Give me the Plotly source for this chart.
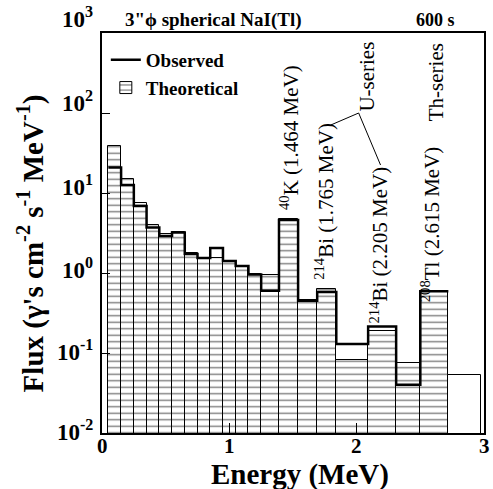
import plotly.graph_objects as go

# Energy bin edges (MeV)
edges = [0.05, 0.15, 0.25, 0.35, 0.45, 0.55, 0.65, 0.75, 0.85, 0.95, 1.05,
         1.15, 1.25, 1.39, 1.54, 1.69, 1.84, 2.09, 2.31, 2.50, 2.72, 2.98]
# Theoretical flux per bin (last bin drawn without hatching)
theoretical = [39, 14.8, 7.6, 4.0, 3.1, 3.3, 1.76, 1.56, 1.55, 1.41, 1.22,
               0.97, 0.94, 4.7, 0.46, 0.64, 0.082, 0.19, 0.074, 0.60, 0.053]
# Observed flux per bin
observed = [20.8, 12.6, 6.9, 3.7, 2.9, 3.2, 1.73, 1.54, 2.05, 1.41, 1.22,
            0.96, 0.60, 4.6, 0.45, 0.58, 0.13, 0.215, 0.040, 0.59]

y_tickvals = [0.01, 0.1, 1, 10, 100, 1000]
y_ticktext = ["10<sup>-2</sup>", "10<sup>-1</sup>", "10<sup>0</sup>",
              "10<sup>1</sup>", "10<sup>2</sup>", "10<sup>3</sup>"]
x_tickvals = [0, 1, 2, 3]
x_ticktext = ["0", "1", "2", "3"]

SERIF = "Liberation Serif"

centers = [(edges[i] + edges[i + 1]) / 2 for i in range(len(theoretical))]
widths = [edges[i + 1] - edges[i] for i in range(len(theoretical))]
shapes_pat = ["-"] * (len(theoretical) - 1) + [""]

obs_x, obs_y = [], []
for i, v in enumerate(observed):
    obs_x += [edges[i], edges[i + 1]]
    obs_y += [v, v]

fig = go.Figure()
fig.add_trace(go.Bar(
    x=centers, y=theoretical, width=widths, name="Theoretical",
    marker=dict(color="white", line=dict(color="black", width=1),
                pattern=dict(shape=shapes_pat, fgcolor="black", bgcolor="white",
                             size=6.5, solidity=0.22)),
    legendrank=2,
))
fig.add_trace(go.Scatter(
    x=obs_x, y=obs_y, mode="lines", name="Observed",
    line=dict(color="black", width=2.5), legendrank=1,
))

# layout in pixels: plot area x 102..486, y 33..433
L, R, T, B = 102, 7, 33, 56
W, H = 493, 489
pw, ph = W - L - R, H - T - B


def px(x):
    return (x - L) / pw


def py(y):
    return (H - B - y) / ph


def bold(size):
    return dict(family=SERIF, size=size, color="black", weight="bold")


ann_font = dict(family=SERIF, size=21, color="black")
annotations = [
    dict(text="<sup>40</sup>K (1.464 MeV)", x=px(290), y=py(138)),
    dict(text="<sup>214</sup>Bi (1.765 MeV)", x=px(325), y=py(201)),
    dict(text="<sup>214</sup>Bi (2.205 MeV)", x=px(380), y=py(245)),
    dict(text="<sup>208</sup>Tl (2.615 MeV)", x=px(432), y=py(224)),
    dict(text="U-series", x=px(368), y=py(77)),
    dict(text="Th-series", x=px(438), y=py(82)),
]
for a in annotations:
    a.update(xref="paper", yref="paper", textangle=-90, showarrow=False,
             font=ann_font, xanchor="center", yanchor="middle")

annotations += [
    dict(text="3\"\u03d5 spherical NaI(Tl)", x=px(214), y=py(20), xref="paper",
         yref="paper", showarrow=False, xanchor="center", yanchor="middle",
         font=bold(19)),
    dict(text="600 s", x=px(437), y=py(20), xref="paper", yref="paper",
         showarrow=False, xanchor="center", yanchor="middle", font=bold(18)),
    # axis titles
    dict(text="Energy (MeV)", x=px(301), y=py(474), xref="paper", yref="paper",
         showarrow=False, xanchor="center", yanchor="middle", font=bold(29)),
    dict(text="Flux (\u03b3's cm<sup>-2</sup> s<sup>-1</sup> MeV<sup>-1</sup>)",
         x=px(30), y=py(243), xref="paper", yref="paper", textangle=-90,
         showarrow=False, xanchor="center", yanchor="middle", font=bold(29)),
]

# x tick labels
for v, t in zip(x_tickvals, x_ticktext):
    annotations.append(dict(text=t, x=v, xref="x", y=py(446), yref="paper",
                            showarrow=False, xanchor="center", yanchor="middle",
                            font=bold(21)))
# y tick labels (placed as in the reference, slightly above each tick)
y_label_px = [430, 350, 268, 185, 101, 18]
for t, yp in zip(y_ticktext, y_label_px):
    annotations.append(dict(text=t, x=px(95), y=py(yp), xref="paper",
                            yref="paper", showarrow=False, xanchor="right",
                            yanchor="middle", font=bold(23)))

line_shapes = [
    dict(type="line", xref="paper", yref="paper", x0=px(332), y0=py(125),
         x1=px(360), y1=py(113), line=dict(color="black", width=1)),
    dict(type="line", xref="paper", yref="paper", x0=px(360), y0=py(113),
         x1=px(382), y1=py(165), line=dict(color="black", width=1)),
]

fig.update_layout(
    width=W, height=H,
    margin=dict(l=L, r=R, t=T, b=B, pad=0),
    paper_bgcolor="white", plot_bgcolor="white",
    bargap=0, showlegend=True,
    legend=dict(x=0.01, y=0.98, xanchor="left", yanchor="top",
                bgcolor="rgba(0,0,0,0)", tracegroupgap=0, font=bold(19)),
    annotations=annotations, shapes=line_shapes,
    font=dict(family=SERIF, color="black"),
)
fig.update_xaxes(
    range=[0, 3], tickvals=x_tickvals, ticks="inside", ticklen=10,
    tickwidth=1, tickcolor="black", showline=True, linewidth=2,
    linecolor="black", mirror=True, showgrid=False, zeroline=False,
    showticklabels=False,
)
fig.update_yaxes(
    type="log", range=[-2, 3], tickvals=y_tickvals,
    ticks="inside", ticklen=8, tickwidth=1, tickcolor="black",
    showline=True, linewidth=2, linecolor="black", mirror=True,
    showgrid=False, zeroline=False, showticklabels=False,
)

fig.write_html(
    "out.html",
    config={"displayModeBar": False},
    post_script="document.body.style.margin='0px';"
                "document.body.style.padding='0px';"
                "document.body.style.overflow='hidden';",
)
